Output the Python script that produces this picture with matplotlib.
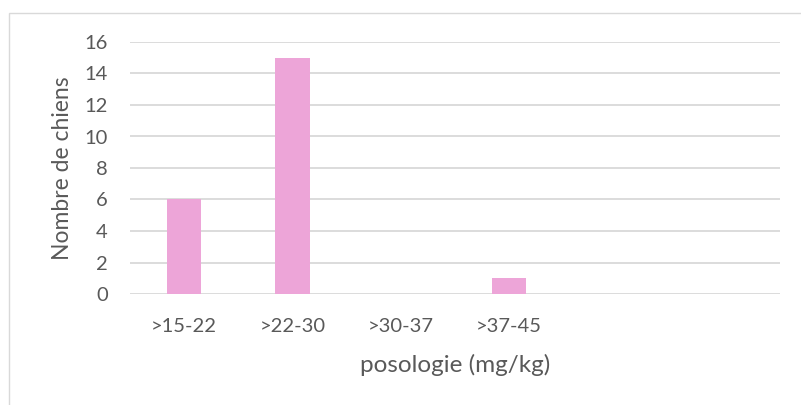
import matplotlib.pyplot as plt
from matplotlib.patches import Rectangle

# Dosage classes and number of dogs in each
categories = [">15-22", ">22-30", ">30-37", ">37-45", "", ""]
counts = [6, 15, 0, 1, 0, 0]
y_ticks = [0, 2, 4, 6, 8, 10, 12, 14, 16]

text_color = "#595959"
grid_color = "#D9D9D9"
bar_color = "#EDA5D8"

plt.rcParams['font.family'] = ['Lato', 'DejaVu Sans']

fig = plt.figure(figsize=(8.01, 4.05), dpi=100)
ax = fig.add_axes([130 / 801, 111 / 405, 650 / 801, 252 / 405])

x = range(len(categories))
ax.bar(x, counts, width=0.315, color=bar_color, zorder=3)

ax.set_xlim(-0.5, len(categories) - 0.5)
ax.set_ylim(0, 16)
ax.set_yticks(y_ticks)
ax.set_xticks(list(x))
ax.set_xticklabels(categories)

ax.grid(axis='y', color=grid_color, linewidth=1.3, zorder=0)
ax.set_axisbelow(True)
for side in ax.spines:
    ax.spines[side].set_visible(False)
ax.tick_params(axis='both', length=0, labelsize=14.5, labelcolor=text_color)
ax.tick_params(axis='x', pad=17)
ax.tick_params(axis='y', pad=16)

ax.set_xlabel("posologie (mg/kg)", fontsize=17.5, color=text_color, labelpad=14)
ax.set_ylabel("Nombre de chiens", fontsize=16.5, color=text_color, labelpad=8)

# chart frame (only left and top edges fall inside the image)
fig.add_artist(Rectangle((8.5 / 801, -0.1), 2, (392 / 405) + 0.1,
                         transform=fig.transFigure, fill=False,
                         edgecolor=grid_color, linewidth=1))

fig.savefig("out.png", dpi=100)
